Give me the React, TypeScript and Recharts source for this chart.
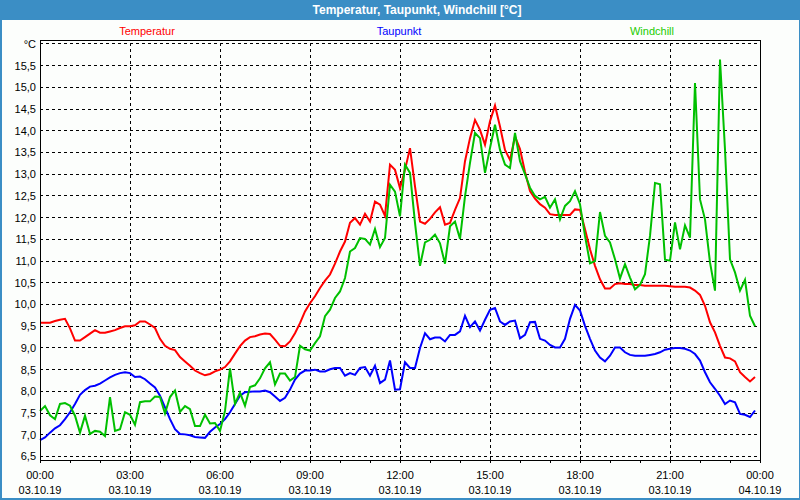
import { LineChart, Line, XAxis, YAxis, CartesianGrid, ReferenceLine } from "recharts";

// 10-Minuten-Werte vom 03.10.19, 00:00 bis 23:50
const temperatur = [
  9.58, 9.58, 9.58, 9.62, 9.65, 9.67, 9.45, 9.17, 9.17, 9.25, 9.33, 9.41, 9.35, 9.35, 9.38, 9.41, 9.46, 9.5, 9.5, 9.52,
  9.61, 9.61, 9.54, 9.46, 9.21, 9.05, 8.98, 8.95, 8.79, 8.69, 8.59, 8.48, 8.42, 8.37, 8.4, 8.46, 8.5, 8.56, 8.69, 8.87,
  9.04, 9.17, 9.25, 9.27, 9.31, 9.33, 9.32, 9.19, 9.05, 9.04, 9.15, 9.34, 9.57, 9.84, 10.03, 10.19, 10.38, 10.55, 10.69, 10.94,
  11.22, 11.45, 11.88, 11.99, 11.84, 12.09, 11.91, 12.37, 12.3, 12.04, 13.22, 13.1, 12.68, 13.1, 13.6, 12.72, 11.91, 11.86, 11.97, 12.12,
  12.24, 11.84, 11.88, 12.18, 12.45, 13.3, 13.83, 14.25, 14.02, 13.68, 14.22, 14.58, 14.1, 13.56, 13.33, 13.87, 13.58, 13.05, 12.61, 12.44,
  12.31, 12.23, 12.08, 12.06, 12.06, 12.06, 12.06, 12.19, 12.18, 11.73, 11.27, 10.89, 10.58, 10.37, 10.37, 10.47, 10.49, 10.47, 10.47, 10.45,
  10.45, 10.43, 10.43, 10.43, 10.43, 10.43, 10.42, 10.41, 10.41, 10.41, 10.39, 10.32, 10.22, 9.97, 9.59, 9.36, 9.05, 8.78, 8.76, 8.69,
  8.44, 8.33, 8.23, 8.33,
];

const taupunkt = [
  6.88, 6.94, 7.05, 7.15, 7.22, 7.36, 7.52, 7.71, 7.92, 8.03, 8.11, 8.13, 8.18, 8.25, 8.32, 8.38, 8.42, 8.44, 8.42, 8.33,
  8.34, 8.28, 8.18, 8.09, 7.9, 7.63, 7.36, 7.13, 7.02, 7.01, 6.99, 6.95, 6.94, 6.93, 7.07, 7.17, 7.25, 7.36, 7.52, 7.71,
  7.9, 7.98, 7.99, 8.0, 8.0, 8.02, 7.98, 7.88, 7.78, 7.85, 8.04, 8.27, 8.41, 8.48, 8.48, 8.5, 8.46, 8.46, 8.51, 8.54,
  8.54, 8.36, 8.42, 8.38, 8.54, 8.56, 8.36, 8.59, 8.19, 8.27, 8.71, 8.04, 8.05, 8.67, 8.54, 8.54, 9.0, 9.34, 9.2, 9.24,
  9.24, 9.15, 9.3, 9.3, 9.38, 9.74, 9.48, 9.61, 9.4, 9.65, 9.88, 9.92, 9.61, 9.53, 9.61, 9.63, 9.22, 9.3, 9.59, 9.6,
  9.21, 9.17, 9.07, 9.01, 9.01, 9.21, 9.67, 9.99, 9.86, 9.51, 9.21, 8.94, 8.78, 8.69, 8.82, 9.01, 9.01, 8.9, 8.84, 8.82,
  8.82, 8.82, 8.84, 8.86, 8.9, 8.96, 8.98, 9.0, 9.0, 8.98, 8.94, 8.86, 8.71, 8.44, 8.21, 8.06, 7.9, 7.71, 7.79, 7.75,
  7.48, 7.46, 7.41, 7.56,
];

const windchill = [
  7.55, 7.66, 7.45, 7.36, 7.71, 7.73, 7.67, 7.44, 7.05, 7.44, 7.02, 7.09, 7.07, 6.97, 7.87, 7.09, 7.13, 7.52, 7.46, 7.23,
  7.75, 7.77, 7.77, 7.88, 7.87, 7.49, 7.87, 8.02, 7.53, 7.66, 7.59, 7.2, 7.2, 7.46, 7.26, 7.27, 7.09, 7.55, 8.53, 7.71,
  7.97, 7.67, 8.1, 8.14, 8.3, 8.53, 8.67, 8.16, 8.41, 8.41, 8.25, 8.33, 9.05, 8.97, 8.94, 9.11, 9.27, 9.73, 9.88, 10.15,
  10.3, 10.61, 11.22, 11.3, 11.53, 11.51, 11.38, 11.74, 11.32, 11.53, 12.76, 12.6, 12.03, 13.22, 13.03, 11.88, 10.89, 11.43, 11.49, 11.61,
  11.41, 10.94, 11.8, 11.91, 11.51, 12.49, 13.26, 13.95, 13.83, 13.03, 13.6, 14.14, 13.56, 13.22, 13.14, 13.95, 13.3, 13.0, 12.69, 12.5,
  12.42, 12.48, 12.23, 12.42, 11.96, 12.27, 12.38, 12.61, 12.31, 11.58, 10.95, 11.0, 12.13, 11.58, 11.43, 11.04, 10.6, 10.93, 10.62, 10.35,
  10.45, 10.7, 11.58, 12.8, 12.77, 11.03, 11.01, 11.89, 11.27, 11.82, 11.54, 15.1, 12.42, 11.96, 10.97, 10.32, 15.64, 13.57, 11.04, 10.74,
  10.32, 10.57, 9.74, 9.5,
];

// Zeitachse in Stunden (alle 10 Minuten)
const zeit = temperatur.map((_, i) => i / 6);

const xTicks = [0, 1, 2, 3, 4, 5, 6, 7, 8, 9, 10, 11, 12, 13, 14, 15, 16, 17, 18, 19, 20, 21, 22, 23, 24];
const xLabelUhrzeit = ["00:00", "03:00", "06:00", "09:00", "12:00", "15:00", "18:00", "21:00", "00:00"];
const xLabelDatum = ["03.10.19", "03.10.19", "03.10.19", "03.10.19", "03.10.19", "03.10.19", "03.10.19", "03.10.19", "04.10.19"];
const yTicks = [6.5, 7, 7.5, 8, 8.5, 9, 9.5, 10, 10.5, 11, 11.5, 12, 12.5, 13, 13.5, 14, 14.5, 15, 15.5, 16];
const gitterStunden = [3, 6, 9, 12, 15, 18, 21];

const FONT = "'Liberation Sans', Arial, sans-serif";

const data = zeit.map((t, i) => ({
  t,
  temperatur: temperatur[i],
  taupunkt: taupunkt[i],
  windchill: windchill[i],
}));

function ZeitTick(props: any) {
  const { x, y, payload } = props;
  const h = payload.value;
  if (h % 3 !== 0) return <g />;
  const k = h / 3;
  return (
    <g>
      <text x={x} y={y + 14} textAnchor="middle" fontSize={11} fontFamily={FONT} fill="#000">
        {xLabelUhrzeit[k]}
      </text>
      <text x={x} y={y + 29} textAnchor="middle" fontSize={11} fontFamily={FONT} fill="#000">
        {xLabelDatum[k]}
      </text>
    </g>
  );
}

const formatY = (v: number) => (v === 16 ? "°C" : v.toFixed(1).replace(".", ","));

export default function App() {
  return (
    <div style={{ position: "absolute", left: 0, top: 0, width: 800, height: 500, background: "#3b8ec5", fontFamily: FONT }}>
      <div style={{ position: "absolute", left: 2, top: 20, width: 797, height: 478, background: "#fcfefc" }} />
      <div
        style={{
          position: "absolute",
          left: 0,
          top: 3,
          width: 834,
          textAlign: "center",
          color: "#fff",
          fontWeight: "bold",
          fontSize: 12,
        }}
      >
        Temperatur, Taupunkt, Windchill [°C]
      </div>
      <div style={{ position: "absolute", left: 97, top: 25, width: 100, textAlign: "center", fontSize: 11, color: "#ff0000" }}>
        Temperatur
      </div>
      <div style={{ position: "absolute", left: 349, top: 25, width: 100, textAlign: "center", fontSize: 11, color: "#0000ff" }}>
        Taupunkt
      </div>
      <div style={{ position: "absolute", left: 602, top: 25, width: 100, textAlign: "center", fontSize: 11, color: "#22cc00" }}>
        Windchill
      </div>
      <div style={{ position: "absolute", left: 0, top: 0 }}>
        <LineChart width={800} height={500} data={data} margin={{ top: 40, right: 40, bottom: 0, left: 0 }}>
          <CartesianGrid vertical={false} stroke="#000" strokeDasharray="3 3" shapeRendering="crispEdges" />
          {gitterStunden.map((h) => (
            <ReferenceLine key={h} x={h} stroke="#000" strokeDasharray="3 3" shapeRendering="crispEdges" />
          ))}
          <XAxis
            dataKey="t"
            type="number"
            domain={[0, 24]}
            ticks={xTicks}
            interval={0}
            height={40}
            axisLine={false}
            tickLine={{ stroke: "#000", shapeRendering: "crispEdges" }}
            tickSize={3}
            tickMargin={2}
            tick={<ZeitTick />}
          />
          <YAxis
            type="number"
            domain={[6.42, 16.09]}
            allowDataOverflow
            ticks={yTicks}
            interval={0}
            width={40}
            axisLine={false}
            tickLine={false}
            tickSize={0}
            tickMargin={4}
            tickFormatter={formatY}
            tick={{ fontSize: 11, fill: "#000", fontFamily: FONT }}
          />
          <Line type="linear" dataKey="temperatur" stroke="#ff0000" strokeWidth={2} dot={false} isAnimationActive={false} />
          <Line type="linear" dataKey="taupunkt" stroke="#0000ff" strokeWidth={2} dot={false} isAnimationActive={false} />
          <Line type="linear" dataKey="windchill" stroke="#00c000" strokeWidth={2} dot={false} isAnimationActive={false} />
        </LineChart>
      </div>
      <div
        style={{
          position: "absolute",
          left: 40,
          top: 40,
          width: 719,
          height: 419,
          border: "1px solid #000",
          pointerEvents: "none",
        }}
      />
    </div>
  );
}
